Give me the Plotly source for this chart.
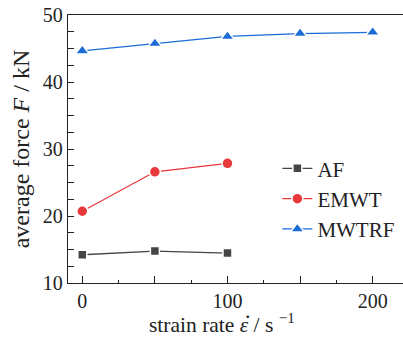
import plotly.graph_objects as go

# strain rate (1/s)
rate_af = [0, 50, 100]
rate_emwt = [0, 50, 100]
rate_mwtrf = [0, 50, 100, 150, 200]

# average crushing force (kN)
force_af = [14.22, 14.77, 14.47]
force_emwt = [20.71, 26.6, 27.86]
force_mwtrf = [44.64, 45.73, 46.8, 47.23, 47.42]

series_names = ["AF", "EMWT", "MWTRF"]

x_tick_vals = [0, 50, 100, 150, 200]
x_tick_text = ["0", "", "100", "", "200"]
y_tick_vals = [10 + 2.5 * i for i in range(17)]
y_tick_text = [str(int(v)) if v % 10 == 0 else "" for v in y_tick_vals]

FONT = "Liberation Serif"
AXIS_COLOR = "#222222"

fig = go.Figure()

styles = [
    (rate_af, force_af, "#454545", "square", 9),
    (rate_emwt, force_emwt, "#e8383b", "circle", 11),
    (rate_mwtrf, force_mwtrf, "#1b6cd8", "triangle-up", 12),
]
for name, (xs, ys, color, symbol, size) in zip(series_names, styles):
    fig.add_trace(go.Scatter(
        x=xs, y=ys, name=name, mode="lines+markers",
        line=dict(color=color, width=1.3),
        marker=dict(symbol=symbol, size=size, color=color,
                    line=dict(color="white", width=1.5)),
        cliponaxis=False,
    ))

fig.update_layout(
    width=403, height=338,
    margin=dict(l=68, r=0, t=15, b=55),
    paper_bgcolor="white", plot_bgcolor="white",
    font=dict(family=FONT, size=20, color=AXIS_COLOR),
    showlegend=True,
    legend=dict(
        x=0.625, y=0.503, xanchor="left", yanchor="top",
        bgcolor="rgba(0,0,0,0)", borderwidth=0,
        font=dict(family=FONT, size=21, color=AXIS_COLOR),
        tracegroupgap=0, itemwidth=30,
    ),
    xaxis=dict(
        range=[-9.85, 220.9], showgrid=False, zeroline=False,
        showline=True, linecolor=AXIS_COLOR, linewidth=1.3, mirror=True,
        tickmode="array", tickvals=x_tick_vals, ticktext=x_tick_text,
        ticks="inside", ticklen=7, tickwidth=1.2, tickcolor=AXIS_COLOR,
        minor=dict(dtick=25, tick0=0, ticks="inside", ticklen=3,
                   tickwidth=1.2, tickcolor=AXIS_COLOR),
        tickfont=dict(family=FONT, size=20, color=AXIS_COLOR),
    ),
    yaxis=dict(
        range=[10, 50], showgrid=False, zeroline=False,
        showline=True, linecolor=AXIS_COLOR, linewidth=1.3, mirror=True,
        tickmode="array", tickvals=y_tick_vals, ticktext=y_tick_text,
        ticks="inside", ticklen=6, tickwidth=1.2, tickcolor=AXIS_COLOR,
        tickfont=dict(family=FONT, size=20, color=AXIS_COLOR),
        title=dict(text="average force <i>F</i> / kN",
                   font=dict(family=FONT, size=24, color=AXIS_COLOR),
                   standoff=6),
    ),
    annotations=[
        dict(
            text="strain rate <i>ε</i> / s <sup>\u22121</sup>",
            xref="paper", yref="paper", x=0.460, y=-0.209,
            xanchor="center", yanchor="bottom", showarrow=False,
            font=dict(family=FONT, size=21.5, color=AXIS_COLOR),
        ),
        # dot accent over the strain symbol (rate notation)
        dict(
            text=".",
            xref="paper", yref="paper", x=0.536, y=-0.157,
            xanchor="center", yanchor="bottom", showarrow=False,
            font=dict(family=FONT, size=22, color=AXIS_COLOR),
        ),
    ],
)

fig.write_html("out.html")
